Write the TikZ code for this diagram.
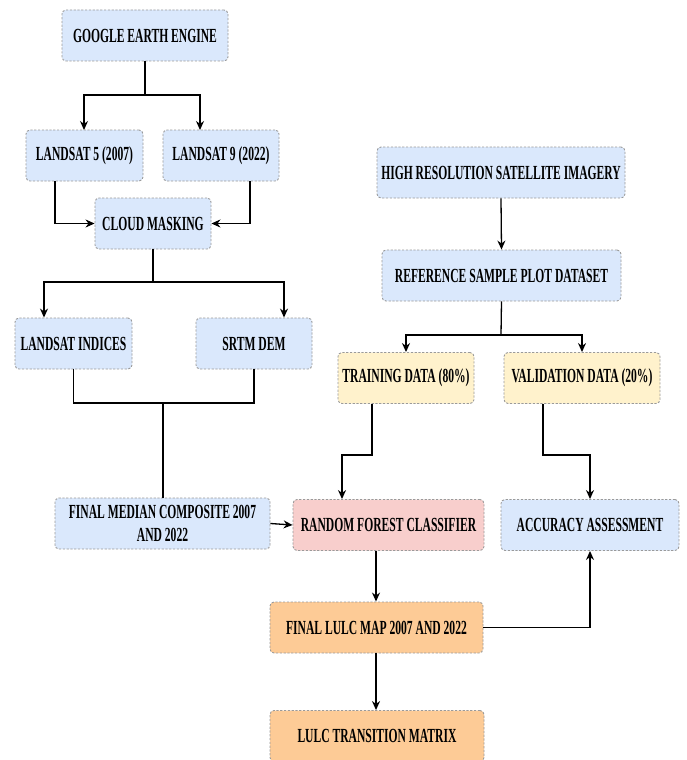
\documentclass[tikz,border=0pt]{standalone}
\usepackage{fontspec}
\setmainfont{Liberation Serif}[FakeStretch=0.58]
\usetikzlibrary{arrows.meta}
\definecolor{bluef}{HTML}{DAE8FC}
\definecolor{yellowf}{HTML}{FFF2CC}
\definecolor{pinkf}{HTML}{F8CECC}
\definecolor{orangef}{HTML}{FDCB96}
\definecolor{dashc}{HTML}{9A9A9A}
\begin{document}
\begin{tikzpicture}[x=1pt,y=-1pt,
  box/.style={draw=dashc, dashed, dash pattern=on 2.2pt off 1.6pt, line width=0.9pt, rounded corners=4pt,
    font=\fontsize{20}{23}\selectfont\bfseries, align=center, inner sep=0pt, minimum height=51pt},
  bl/.style={box, fill=bluef},
  yl/.style={box, fill=yellowf},
  pk/.style={box, fill=pinkf},
  og/.style={box, fill=orangef},
  arr/.style={line width=1.3pt, -{Stealth[length=9pt,width=8pt]}},
  ln/.style={line width=1.3pt}]
\useasboundingbox (0,0) rectangle (687,760);
\node[bl, minimum width=166pt] (gee) at (145,35.5) {GOOGLE EARTH ENGINE};
\node[bl, minimum width=117pt] (l5) at (84.5,155.5) {LANDSAT 5 (2007)};
\node[bl, minimum width=116pt] (l9) at (221,155.5) {LANDSAT 9 (2022)};
\node[bl, minimum width=116pt] (cm) at (153,223.5) {CLOUD MASKING};
\node[bl, minimum width=117pt] (li) at (73.5,343.5) {LANDSAT INDICES};
\node[bl, minimum width=116pt] (srtm) at (254,343.5) {SRTM DEM};
\node[bl, minimum width=215pt] (fmc) at (162.5,523.5) {FINAL MEDIAN COMPOSITE 2007\\AND 2022};
\node[bl, minimum width=248pt] (hrsi) at (501,172.5) {HIGH RESOLUTION SATELLITE IMAGERY};
\node[bl, minimum width=239pt] (ref) at (501.5,275.5) {REFERENCE SAMPLE PLOT DATASET};
\node[yl, minimum width=136pt] (tr) at (406,378) {TRAINING DATA (80\%)};
\node[yl, minimum width=156pt] (va) at (582,378) {VALIDATION DATA (20\%)};
\node[pk, minimum width=191pt] (rf) at (388.5,525) {RANDOM FOREST CLASSIFIER};
\node[bl, minimum width=178pt] (acc) at (590,525) {ACCURACY ASSESSMENT};
\node[og, minimum width=213pt] (map) at (376.5,627.5) {FINAL LULC MAP 2007 AND 2022};
\node[og, minimum width=214pt] (tm) at (377,736) {LULC TRANSITION MATRIX};

% GEE split
\coordinate (j1) at (145,95);
\draw[ln] (gee.south) -- (j1);
\draw[arr] (j1) -| (84,130);
\draw[arr] (j1) -| (200,130);
% to cloud masking
\draw[arr] (l5.south -| 55,0) |- (cm.west);
\draw[arr] (l9.south -| 250,0) |- (cm.east);
% cloud split
\coordinate (j2) at (153,282);
\draw[ln] (cm.south) -- (j2);
\draw[arr] (j2) -| (li.north -| 44,0);
\draw[arr] (j2) -| (srtm.north -| 284,0);
% merge
\coordinate (j3) at (163,403);
\draw[ln] (li.south) |- (j3);
\draw[ln] (srtm.south) |- (j3);
\draw[ln] (j3) -- (fmc.north -| j3);
\draw[arr] (fmc.east) -- (rf.west);
% right side
\draw[arr] (hrsi.south) -- (ref.north);
\coordinate (j4) at (501,335);
\draw[ln] (ref.south) -- (j4);
\draw[arr] (j4) -| (tr.north);
\draw[arr] (j4) -| (va.north);
\coordinate (j5) at (342,455);
\draw[arr] (tr.south -| 372,0) |- (j5) -- (rf.north -| j5);
\coordinate (j6) at (590,455);
\draw[arr] (va.south -| 543,0) |- (j6) -- (acc.north -| j6);
\draw[arr] (rf.south -| 376,0) -- (map.north -| 376,0);
\draw[arr] (map.east) -| (acc.south -| 590,0);
\draw[arr] (map.south -| 376,0) -- (tm.north -| 376,0);
\end{tikzpicture}
\end{document}
